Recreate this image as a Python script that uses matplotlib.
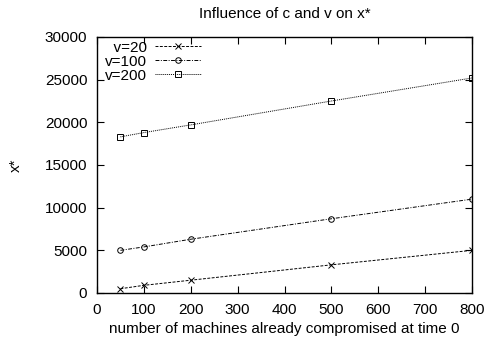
import matplotlib
matplotlib.use("Agg")
import matplotlib.pyplot as plt

plt.rcParams["font.family"] = ["Liberation Sans", "DejaVu Sans"]

# data
machines = [50, 100, 200, 500, 800]
x_v20 = [500, 900, 1500, 3300, 5000]
x_v100 = [5000, 5400, 6300, 8700, 11000]
x_v200 = [18300, 18800, 19700, 22500, 25200]

# labels padded so they line up on the right like the gnuplot key
series = [
    ("  v=20", x_v20, "x", (0, (3, 1.5))),
    ("v=100", x_v100, "o", (0, (4, 1.5, 1, 1.5))),
    ("v=200", x_v200, "s", (0, (1, 1))),
]

fig = plt.figure(figsize=(4.87, 3.42), dpi=100)
ax = fig.add_axes([97 / 487, 1 - 293 / 342, 375 / 487, 256 / 342])

for label, vals, mk, ls in series:
    ax.plot(machines, vals, color="black", lw=0.7, ls=ls, marker=mk,
            ms=4, mfc="none", mec="black", mew=0.7, label=label)

ax.set_xlim(0, 800)
ax.set_ylim(0, 30000)
ax.set_xticks(range(0, 801, 100))
ax.set_yticks(range(0, 30001, 5000))
ax.tick_params(direction="in", top=True, right=True, length=5,
               labelsize=11, pad=7)
for s in ax.spines.values():
    s.set_linewidth(1.0)

ax.set_xlabel("number of machines already compromised at time 0",
              fontsize=11, labelpad=4)
ax.set_ylabel("x*", fontsize=11, labelpad=16)
ax.set_title("Influence of c and v on x*", fontsize=11, pad=14)

ax.legend(loc="upper left", frameon=False, markerfirst=False, fontsize=11,
          handlelength=3.0, handletextpad=0.5, labelspacing=0.0,
          borderaxespad=0.0, borderpad=0.25, bbox_to_anchor=(0.012, 1.0))

fig.savefig("out.png", dpi=100)
